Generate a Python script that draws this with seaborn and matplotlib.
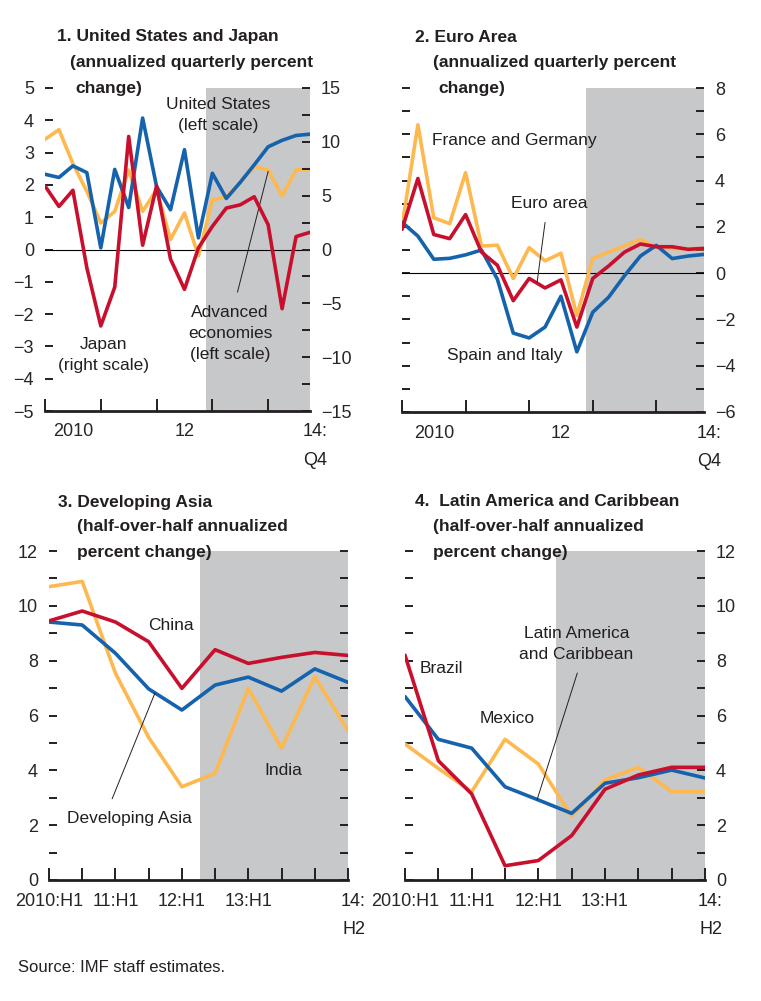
import numpy as np
import pandas as pd
import matplotlib
matplotlib.use("Agg")
import matplotlib.pyplot as plt
import matplotlib.ticker as mticker
import seaborn as sns

# ---------------- data ----------------
quarters = list(range(20))  # 2010:Q1 .. 2014:Q4
us = [2.33, 2.23, 2.59, 2.38, 0.05, 2.48, 1.30, 4.07, 1.95, 1.23,
      3.09, 0.36, 2.36, 1.58, 2.08, 2.62, 3.18, 3.38, 3.53, 3.57]
advanced = [3.41, 3.71, 2.66, 1.80, 0.82, 1.18, 2.46, 1.18, 1.85, 0.31,
            1.13, -0.20, 1.54, 1.62, 2.08, 2.58, 2.46, 1.66, 2.46, 2.49]
japan = [5.9, 4.0, 5.5, -1.7, -7.1, -3.5, 10.5, 0.4, 5.9, -0.9,
         -3.7, 0.15, 2.15, 3.85, 4.15, 4.9, 2.3, -5.5, 1.2, 1.6]

fra_ger = [2.03, 6.41, 2.39, 2.14, 4.34, 1.17, 1.21, -0.23, 1.10, 0.53,
           0.86, -1.83, 0.63, 0.91, 1.17, 1.46, 1.10, 1.06, 1.06, 1.06]
euro_area = [1.89, 4.09, 1.67, 1.49, 2.53, 0.91, 0.34, -1.19, -0.23, -0.64,
             -0.29, -2.33, -0.23, 0.31, 0.91, 1.26, 1.14, 1.14, 1.03, 1.07]
spa_ita = [2.20, 1.60, 0.60, 0.64, 0.79, 1.00, -0.26, -2.59, -2.80, -2.33,
           -1.00, -3.40, -1.69, -1.04, -0.11, 0.74, 1.20, 0.63, 0.74, 0.81]

halves = list(range(10))  # 2010:H1 .. 2014:H2
china = [9.45, 9.81, 9.41, 8.69, 6.99, 8.40, 7.90, 8.12, 8.30, 8.19]
dev_asia = [9.41, 9.30, 8.27, 6.97, 6.20, 7.11, 7.40, 6.89, 7.70, 7.21]
india = [10.70, 10.89, 7.54, 5.20, 3.40, 3.89, 6.99, 4.80, 7.42, 5.45]

brazil = [8.20, 4.35, 3.14, 0.52, 0.71, 1.62, 3.31, 3.83, 4.11, 4.11]
lac = [6.69, 5.13, 4.81, 3.40, 2.92, 2.43, 3.53, 3.73, 4.01, 3.72]
mexico = [4.96, 4.07, 3.22, 5.13, 4.23, 2.33, 3.65, 4.11, 3.22, 3.22]

q_labels = ["2010", "12"]
q_end_label = "14:\nQ4"
h_labels = ["2010:H1", "", "11:H1", "", "12:H1", "", "13:H1", "", "", ""]
h_end_label = "14:\nH2"

# ---------------- style ----------------
BLUE = "#1562ad"
RED = "#c8102e"
ORANGE = "#fdb94f"
SHADE = "#c7c8ca"
INK = "#231f20"

sns.set_style("white")
FONT = ["Liberation Sans Narrow", "Liberation Sans", "DejaVu Sans"]
plt.rcParams["font.family"] = FONT
plt.rcParams["axes.unicode_minus"] = True

TICK_FS = 13
TXT_FS = 12.5
TITLE_FS = 12.5

fig = plt.figure(figsize=(7.61, 10.01), dpi=100)
W, H = 761.0, 1001.0


def add_ax(l, r, t, b):
    return fig.add_axes([l / W, 1 - b / H, (r - l) / W, (b - t) / H])


def style_axis(ax):
    for s in ["top", "left", "right"]:
        ax.spines[s].set_visible(False)
    ax.spines["bottom"].set_linewidth(2.0)
    ax.spines["bottom"].set_color(INK)
    ax.set_xlabel("")
    ax.set_ylabel("")
    ax.grid(False)
    ax.patch.set_alpha(0)


def yticks_both(ax, labelleft, labelright):
    ax.tick_params(axis="y", which="both", direction="in", left=True, right=True,
                   labelleft=labelleft, labelright=labelright, length=6, width=1.4,
                   color=INK, labelsize=TICK_FS, pad=8)


def end_label(ax, xval, s):
    ax.annotate(s, xy=(xval, 0), xycoords=("data", "axes fraction"),
                xytext=(4, -9), textcoords="offset points", ha="center", va="top",
                fontsize=TICK_FS, color=INK, linespacing=1.9, annotation_clip=False)


lw = 2.6

# ---------- Panel 1 ----------
ax1 = add_ax(45, 310, 88, 411)
ax1.axvspan(11.55, 19, color=SHADE, lw=0, zorder=0)
sns.lineplot(x=quarters, y=advanced, ax=ax1, color=ORANGE, lw=lw, zorder=3)
sns.lineplot(x=quarters, y=us, ax=ax1, color=BLUE, lw=lw, zorder=4)
ax1.axhline(0, color="black", lw=0.8, zorder=2)
ax1.set_xlim(0, 19)
ax1.set_ylim(-5, 5)
ax1.yaxis.set_major_locator(mticker.MultipleLocator(1))
ax1.tick_params(axis="y", which="both", direction="in", left=True, right=False,
                labelleft=True, labelright=False, length=6, width=1.4,
                color=INK, labelsize=TICK_FS, pad=8)
style_axis(ax1)
ax1b = ax1.twinx()
sns.lineplot(x=quarters, y=japan, ax=ax1b, color=RED, lw=lw, zorder=5)
ax1b.set_ylim(-15, 15)
ax1b.yaxis.set_major_locator(mticker.MultipleLocator(5))
ax1b.yaxis.set_minor_locator(mticker.MultipleLocator(2.5))
ax1b.tick_params(axis="y", which="both", direction="in", left=False, right=True,
                 labelleft=False, labelright=True, length=6, width=1.4,
                 color=INK, labelsize=TICK_FS, pad=8)
style_axis(ax1b)
ax1b.spines["bottom"].set_visible(False)
ax1b.set_xlim(0, 19)

# ---------- Panel 2 ----------
ax2 = add_ax(402, 704, 88, 412)
ax2.axvspan(11.6, 19, color=SHADE, lw=0, zorder=0)
sns.lineplot(x=quarters, y=fra_ger, ax=ax2, color=ORANGE, lw=lw, zorder=3)
sns.lineplot(x=quarters, y=spa_ita, ax=ax2, color=BLUE, lw=lw, zorder=4)
sns.lineplot(x=quarters, y=euro_area, ax=ax2, color=RED, lw=lw, zorder=5)
ax2.axhline(0, color="black", lw=0.8, zorder=2)
ax2.set_xlim(0, 19)
ax2.set_ylim(-6, 8)
ax2.yaxis.set_major_locator(mticker.MultipleLocator(2))
ax2.yaxis.set_minor_locator(mticker.MultipleLocator(1))
yticks_both(ax2, False, True)
style_axis(ax2)

for ax in (ax1, ax2):
    ax.xaxis.set_major_locator(mticker.FixedLocator([0, 4, 8, 12, 16]))
    ax.xaxis.set_major_formatter(mticker.NullFormatter())
    ax.xaxis.set_minor_locator(mticker.FixedLocator([2, 10]))
    ax.xaxis.set_minor_formatter(mticker.FixedFormatter(q_labels))
    ax.tick_params(axis="x", which="major", direction="in", length=9, width=1.4,
                   color=INK, bottom=True)
    ax.tick_params(axis="x", which="minor", length=0, labelsize=TICK_FS, pad=9,
                   bottom=True)
    end_label(ax, 19, q_end_label)

# ---------- Panel 3 ----------
ax3 = add_ax(49, 348, 551, 880)
ax3.axvspan(4.55, 9, color=SHADE, lw=0, zorder=0)
sns.lineplot(x=halves, y=india, ax=ax3, color=ORANGE, lw=lw, zorder=3)
sns.lineplot(x=halves, y=dev_asia, ax=ax3, color=BLUE, lw=lw, zorder=4)
sns.lineplot(x=halves, y=china, ax=ax3, color=RED, lw=lw, zorder=5)
ax3.set_xlim(0, 9)
ax3.set_ylim(0, 12)
ax3.yaxis.set_major_locator(mticker.MultipleLocator(2))
ax3.yaxis.set_minor_locator(mticker.MultipleLocator(1))
yticks_both(ax3, True, False)
style_axis(ax3)

# ---------- Panel 4 ----------
ax4 = add_ax(405, 705, 551, 880)
ax4.axvspan(4.52, 9, color=SHADE, lw=0, zorder=0)
sns.lineplot(x=halves, y=mexico, ax=ax4, color=ORANGE, lw=lw, zorder=3)
sns.lineplot(x=halves, y=lac, ax=ax4, color=BLUE, lw=lw, zorder=4)
sns.lineplot(x=halves, y=brazil, ax=ax4, color=RED, lw=lw, zorder=5)
ax4.set_xlim(0, 9)
ax4.set_ylim(0, 12)
ax4.yaxis.set_major_locator(mticker.MultipleLocator(2))
ax4.yaxis.set_minor_locator(mticker.MultipleLocator(1))
yticks_both(ax4, False, True)
style_axis(ax4)

for ax in (ax3, ax4):
    ax.xaxis.set_major_locator(mticker.FixedLocator(halves))
    ax.xaxis.set_major_formatter(mticker.FixedFormatter(h_labels))
    ax.xaxis.set_minor_locator(mticker.NullLocator())
    ax.tick_params(axis="x", which="major", direction="in", length=9, width=1.4,
                   color=INK, bottom=True, labelsize=TICK_FS, pad=9)
    end_label(ax, 9, h_end_label)

for ax in (ax1, ax1b, ax2, ax3, ax4):
    leg = ax.get_legend()
    if leg is not None:
        leg.remove()

# ---------- Annotations ----------
tkw = dict(fontsize=TXT_FS, color=INK, ha="center", va="center",
           linespacing=1.5, zorder=10)
ax1.text(12.4, 4.15, "United States\n(left scale)", **tkw)
ax1.text(4.16, -3.26, "Japan\n(right scale)", **tkw)
ax1.text(13.26, -2.6, "Advanced\neconomies\n(left scale)", **tkw)
ax1.plot([13.8, 16.0], [-1.32, 2.42], color=INK, lw=0.7, zorder=9)

ax2.text(1.89, 5.71, "France and Germany", **{**tkw, "ha": "left"})
ax2.text(9.25, 3.0, "Euro area", **tkw)
ax2.plot([9.0, 8.5], [2.19, -0.40], color=INK, lw=0.7, zorder=9)
ax2.text(6.48, -3.56, "Spain and Italy", **tkw)

ax3.text(3.67, 9.27, "China", **tkw)
ax3.text(7.05, 4.01, "India", **tkw)
ax3.text(2.41, 2.26, "Developing Asia", **tkw)
ax3.plot([1.9, 3.19], [2.96, 6.82], color=INK, lw=0.7, zorder=9)

ax4.text(1.08, 7.7, "Brazil", **tkw)
ax4.text(3.06, 5.88, "Mexico", **tkw)
ax4.text(5.14, 8.6, "Latin America\nand Caribbean", **tkw)
ax4.plot([5.17, 3.96], [7.55, 2.92], color=INK, lw=0.7, zorder=9)

# ---------- Titles ----------
def ftext(x, y, s, bold=True, fs=TITLE_FS):
    fig.text(x / W, 1 - y / H, s, fontsize=fs, fontweight="bold" if bold else "normal",
             color=INK, ha="left", va="center")

ftext(57, 37, "1. United States and Japan")
ftext(70, 62, "(annualized quarterly percent")
ftext(75, 88, "change)")
ftext(415, 37, "2. Euro Area")
ftext(433, 62, "(annualized quarterly percent")
ftext(438, 88, "change)")
ftext(58, 502, "3. Developing Asia")
ftext(77, 527, "(half-over-half annualized")
ftext(77, 552, "percent change)")
ftext(415, 502, "4.  Latin America and Caribbean")
ftext(433, 527, "(half-over-half annualized")
ftext(433, 552, "percent change)")
ftext(18, 967, "Source: IMF staff estimates.", bold=False, fs=12)

fig.savefig("out.png", dpi=100)
